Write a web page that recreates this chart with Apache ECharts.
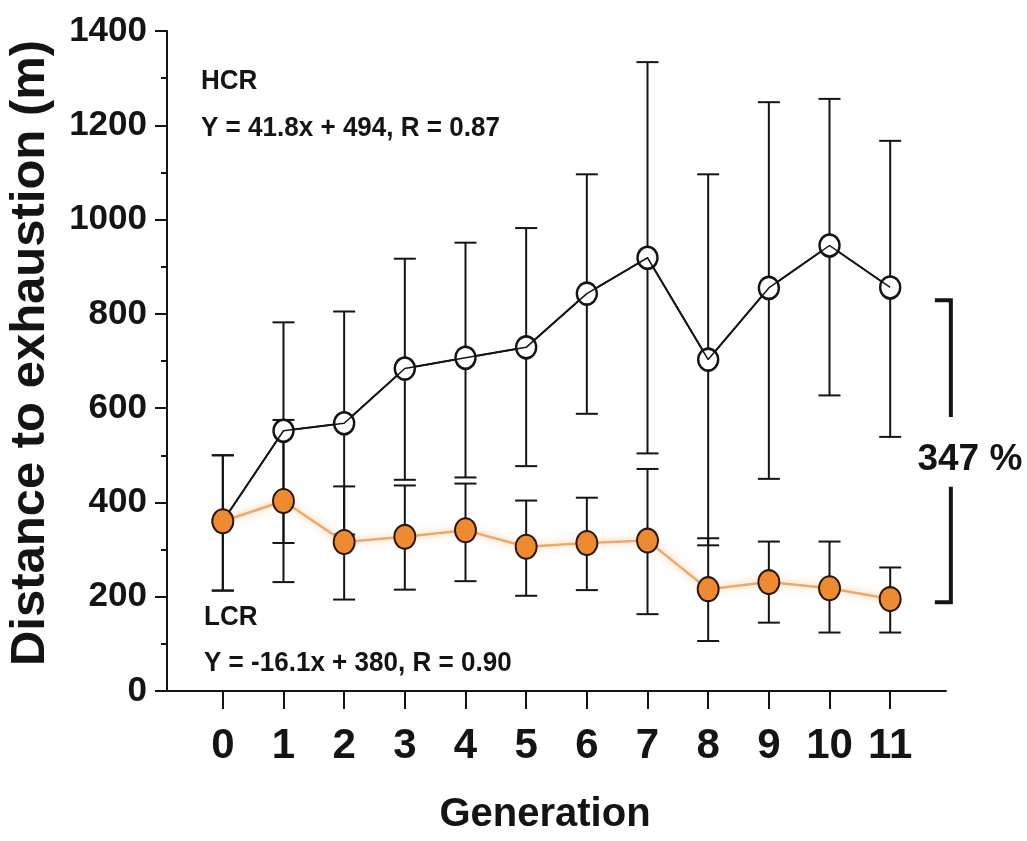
<!DOCTYPE html>
<html lang="en">
<head>
    <meta charset="UTF-8">
    <title>Distance to exhaustion</title>
    <style>
        html,body{padding: 0;margin: 0;background: #fff;}
        #chart{width: 1027px;height: 841px;}
    </style>
    <script src="https://cdn.jsdelivr.net/npm/echarts@6/dist/echarts.min.js"></script>
</head>
<body>
<div id="chart"></div>
<script>
    // generation number on the x axis
    var generations = [0, 1, 2, 3, 4, 5, 6, 7, 8, 9, 10, 11];

    // HCR (high capacity runners): mean and error bar ends
    var hcrMean  = [360, 552, 568, 684, 707, 729, 843, 919, 703, 855, 945, 856];
    var hcrUpper = [500, 782, 805, 917, 951, 982, 1096, 1334, 1096, 1249, 1256, 1167];
    var hcrLower = [213, 314, 332, 448, 453, 477, 588, 504, 309, 450, 627, 539];

    // LCR (low capacity runners)
    var lcrMean  = [360, 403, 316, 327, 341, 306, 314, 319, 216, 231, 218, 195];
    var lcrUpper = [500, 575, 434, 436, 440, 404, 410, 471, 324, 317, 317, 262];
    var lcrLower = [213, 231, 194, 215, 233, 202, 214, 163, 106, 145, 124, 124];

    var yTicks = [0, 200, 400, 600, 800, 1000, 1200, 1400];

    // bracket on the right: x, top, gap top, gap bottom, bottom, label
    var bracketX = 12.0;
    var bracketEnds = [829, 581, 433, 188];
    var bracketLabel = '347 %';
    var bracketLabelY = 490;

    var sans = '"Liberation Sans", Arial, sans-serif';
    var ink = '#141414';

    function pairs(a){
        return generations.map(function(g, i){ return [g, a[i]]; });
    }
    function bars(lo, hi){
        return generations.map(function(g, i){ return [g, lo[i], hi[i]]; });
    }

    function renderErr(params, api){
        var x = api.value(0);
        var p1 = api.coord([x, api.value(2)]);
        var p2 = api.coord([x, api.value(1)]);
        var hw = 11;
        var st = {stroke: ink, lineWidth: 2};
        return {
            type: 'group',
            children: [
                {type: 'line', shape: {x1: p1[0], y1: p1[1], x2: p2[0], y2: p2[1]}, style: st},
                {type: 'line', shape: {x1: p1[0] - hw, y1: p1[1], x2: p1[0] + hw, y2: p1[1]}, style: st},
                {type: 'line', shape: {x1: p2[0] - hw, y1: p2[1], x2: p2[0] + hw, y2: p2[1]}, style: st}
            ]
        };
    }

    function renderBracket(params, api){
        var x = api.value(0);
        var a = api.coord([x, api.value(1)]);
        var b = api.coord([x, api.value(2)]);
        var c = api.coord([x, api.value(3)]);
        var d = api.coord([x, api.value(4)]);
        var t = api.coord([x, bracketLabelY]);
        var st = {stroke: ink, lineWidth: 4, fill: null};
        return {
            type: 'group',
            children: [
                {type: 'polyline', shape: {points: [[a[0] - 16, a[1]], [a[0], a[1]], [b[0], b[1]]]}, style: st},
                {type: 'polyline', shape: {points: [[c[0], c[1]], [d[0], d[1]], [d[0] - 16, d[1]]]}, style: st},
                {type: 'text', x: t[0] + 19, y: t[1], style: {
                    text: bracketLabel, fill: ink, font: 'bold 37px ' + sans,
                    align: 'center', verticalAlign: 'middle'
                }}
            ]
        };
    }

    var myChart = echarts.init(document.getElementById('chart'));

    var noteFont = 'bold 28px ' + sans;

    var option = {
        animation: false,
        backgroundColor: '#fff',
        grid: {left: 167, right: 81, top: 31, bottom: 150},
        xAxis: {
            type: 'value',
            min: -0.92,
            max: 11.92,
            splitLine: {show: false},
            axisLine: {show: true, onZero: false, lineStyle: {color: ink, width: 2}},
            axisTick: {show: true, customValues: generations, length: 18, lineStyle: {color: ink, width: 2}},
            axisLabel: {customValues: generations, margin: 34, color: ink, fontFamily: sans, fontWeight: 'bold', fontSize: 42}
        },
        yAxis: {
            type: 'value',
            min: 0,
            max: 1400,
            interval: 200,
            splitLine: {show: false},
            axisLine: {show: true, onZero: false, lineStyle: {color: ink, width: 2}},
            axisTick: {show: true, length: 12, lineStyle: {color: ink, width: 2}},
            minorTick: {show: true, splitNumber: 2, length: 6, lineStyle: {color: ink, width: 2}},
            axisLabel: {margin: 20, color: ink, fontFamily: sans, fontWeight: 'bold', fontSize: 35,
                customValues: yTicks, formatter: function(v){ return String(v); }}
        },
        graphic: [
            {type: 'text', x: 30, y: 353, rotation: Math.PI / 2, style: {
                text: 'Distance to exhaustion (m)', fill: ink, font: 'bold 49px ' + sans,
                align: 'center', verticalAlign: 'middle'}},
            {type: 'text', x: 545, y: 815, style: {
                text: 'Generation', fill: ink, font: 'bold 40px ' + sans,
                align: 'center', verticalAlign: 'middle'}},
            {type: 'text', x: 201, y: 81, scaleX: 0.93, style: {
                text: 'HCR', fill: ink, font: noteFont, verticalAlign: 'middle'}},
            {type: 'text', x: 201, y: 128, scaleX: 0.93, style: {
                text: 'Y = 41.8x + 494, R = 0.87', fill: ink, font: noteFont, verticalAlign: 'middle'}},
            {type: 'text', x: 204, y: 617, scaleX: 0.93, style: {
                text: 'LCR', fill: ink, font: noteFont, verticalAlign: 'middle'}},
            {type: 'text', x: 204, y: 663, scaleX: 0.93, style: {
                text: 'Y = -16.1x + 380, R = 0.90', fill: ink, font: noteFont, verticalAlign: 'middle'}}
        ],
        series: [
            {
                name: 'HCR err', type: 'custom', z: 1, renderItem: renderErr,
                data: bars(hcrLower, hcrUpper), encode: {x: 0, y: [1, 2]}
            },
            {
                name: 'LCR err', type: 'custom', z: 1, renderItem: renderErr,
                data: bars(lcrLower, lcrUpper), encode: {x: 0, y: [1, 2]}
            },
            {
                name: 'HCR', type: 'line', z: 3, data: pairs(hcrMean),
                symbol: 'circle', symbolSize: [20, 22],
                lineStyle: {color: ink, width: 2},
                itemStyle: {color: '#fff', borderColor: ink, borderWidth: 2.5}
            },
            {
                name: 'HCR line', type: 'line', z: 4, data: pairs(hcrMean),
                showSymbol: false, silent: true,
                lineStyle: {color: ink, width: 1.5}
            },
            {
                name: 'LCR', type: 'line', z: 5, data: pairs(lcrMean),
                symbol: 'circle', symbolSize: [21, 24],
                lineStyle: {color: '#f0a868', width: 2.5, shadowBlur: 8, shadowColor: 'rgba(245,165,90,0.7)'},
                itemStyle: {color: '#ee8a30', borderColor: '#2a1608', borderWidth: 2}
            },
            {
                name: 'bracket', type: 'custom', z: 2, renderItem: renderBracket, clip: false,
                data: [[bracketX].concat(bracketEnds)], encode: {x: 0, y: [1, 4]}
            }
        ]
    };
    myChart.setOption(option);
</script>
</body>
</html>
